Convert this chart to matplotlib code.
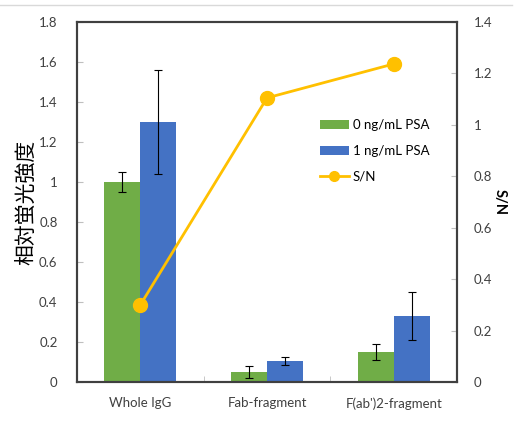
import matplotlib
matplotlib.use("Agg")
import matplotlib.pyplot as plt
import numpy as np
from matplotlib.lines import Line2D

# data
categories = ["Whole IgG", "Fab-fragment", "F(ab')2-fragment"]
psa0 = [1.00, 0.05, 0.15]
psa0_err = [0.05, 0.028, 0.04]
psa1 = [1.30, 0.105, 0.33]
psa1_err = [0.26, 0.02, 0.12]
sn = [0.30, 1.105, 1.237]

GREEN = "#70AD47"
BLUE = "#4472C4"
YELLOW = "#FFC000"
SPINE = "#404040"

plt.rcParams["font.family"] = ["Lato", "DejaVu Sans"]

fig = plt.figure(figsize=(5.17, 4.22), dpi=100)
ax = fig.add_axes([0.149, 0.0948, 0.735, 0.853])
ax2 = ax.twinx()

x = np.arange(len(categories))
w = 0.285
ax.bar(x - w / 2, psa0, w, color=GREEN, label="0 ng/mL PSA", zorder=2)
ax.bar(x + w / 2, psa1, w, color=BLUE, label="1 ng/mL PSA", zorder=2)
ax.errorbar(x - w / 2, psa0, yerr=psa0_err, fmt="none", ecolor="black",
            elinewidth=0.8, capsize=3, capthick=0.8, zorder=3)
ax.errorbar(x + w / 2, psa1, yerr=psa1_err, fmt="none", ecolor="black",
            elinewidth=0.8, capsize=3, capthick=0.8, zorder=3)

ax2.plot(x, sn, color=YELLOW, linewidth=2, marker="o", markersize=10, zorder=4)

ax.set_xlim(-0.5, 2.5)
ax.set_ylim(0, 1.8)
ax.set_yticks(np.arange(0, 1.81, 0.2))
ax.set_yticklabels(["0", "0.2", "0.4", "0.6", "0.8", "1", "1.2", "1.4", "1.6", "1.8"])
ax2.set_ylim(0, 1.4)
ax2.set_yticks(np.arange(0, 1.41, 0.2))
ax2.set_yticklabels(["0", "0.2", "0.4", "0.6", "0.8", "1", "1.2", "1.4"])

ax.set_xticks(x)
ax.set_xticklabels(categories)
ax.set_xticks([0.5, 1.5], minor=True)
ax.tick_params(axis="x", which="major", length=0, pad=11, labelsize=9.5, labelcolor="#404040")
ax.tick_params(axis="x", which="minor", direction="in", length=4, color="#bfbfbf")
ax.tick_params(axis="y", direction="in", length=4, color="#bfbfbf", pad=14,
               labelsize=9.5, labelcolor="#404040")
ax2.tick_params(axis="y", direction="in", length=4, color="#bfbfbf", pad=12,
                labelsize=9.5, labelcolor="#404040")

for a in (ax, ax2):
    for s in a.spines.values():
        s.set_color(SPINE)
        s.set_linewidth(1.5)

ax.set_ylabel("相対蛍光強度", family=["Noto Sans CJK JP", "DejaVu Sans"],
              fontsize=15, labelpad=1)
ax2.set_ylabel("S/N", fontsize=10.5, fontweight="bold", rotation=270, labelpad=10)

h1, l1 = ax.get_legend_handles_labels()
sn_handle = Line2D([], [], color=YELLOW, linewidth=2, marker="o", markersize=7)
ax.legend(h1 + [sn_handle], l1 + ["S/N"], loc="upper left", bbox_to_anchor=(0.625, 0.745),
          frameon=False, fontsize=9.5, handlelength=2.2, labelspacing=1.05,
          handletextpad=0.3, borderaxespad=0)

fig.add_artist(Line2D([0.0, 0.99], [0.988, 0.988], color="#d9d9d9", linewidth=1))

fig.savefig("out.png", dpi=100)
